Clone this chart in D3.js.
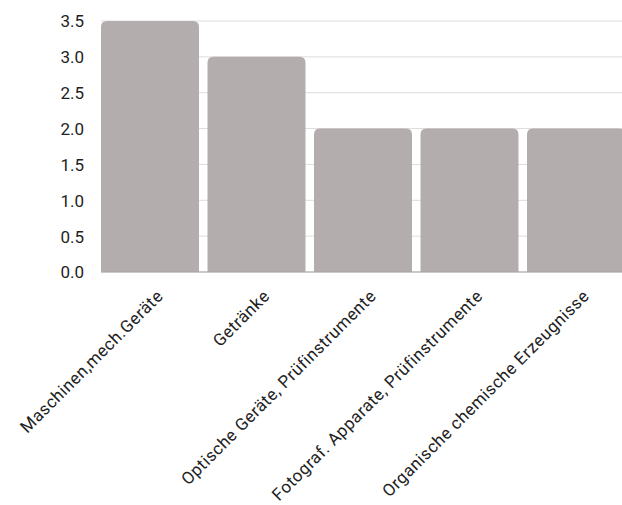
<!DOCTYPE html>
<html>
<head>
<meta charset="utf-8">
<script src="https://cdn.jsdelivr.net/npm/d3@7"></script>
<style>
  body { margin: 0; background: #fff; }
  svg { display: block; }
  .tick text { font-family: Roboto, sans-serif; fill: #222; }
</style>
</head>
<body>
<div class="canvas"></div>
<script>
const categories = ['Maschinen,mech.Geräte', 'Getränke', 'Optische Geräte, Prüfinstrumente',
  'Fotograf. Apparate, Prüfinstrumente', 'Organische chemische Erzeugnisse'];
const values = [3.5, 3.0, 2.0, 2.0, 2.0];
const yTicks = [0, 0.5, 1, 1.5, 2, 2.5, 3, 3.5];

const dims = { width: 622, height: 505 };
const margin = { top: 21, left: 101, bottom: 233 };

const svg = d3.select('.canvas')
  .append('svg')
  .attr('width', dims.width)
  .attr('height', dims.height);

const y = d3.scaleLinear()
  .domain([0, 3.5])
  .range([dims.height - margin.bottom, margin.top]);

const x = d3.scaleBand()
  .domain(categories)
  .range([margin.left, 625])
  .paddingInner(0.08)
  .paddingOuter(0);

// grid lines
svg.append('g')
  .selectAll('line')
  .data(yTicks)
  .enter().append('line')
  .attr('x1', margin.left)
  .attr('x2', dims.width)
  .attr('y1', d => y(d))
  .attr('y2', d => y(d))
  .attr('stroke', '#dcdcdc')
  .attr('stroke-width', 1);

// y axis labels
const yAxis = svg.append('g')
  .attr('transform', `translate(${margin.left - 14}, 0)`)
  .call(d3.axisLeft(y).tickValues(yTicks).tickFormat(d3.format('.1f')).tickSize(0));
yAxis.select('.domain').remove();
yAxis.selectAll('text').attr('font-size', 17).attr('dy', '0.35em');

// bars, rounded top corners
const r = 6;
svg.append('g')
  .selectAll('path')
  .data(values)
  .enter().append('path')
  .attr('fill', '#b3adad')
  .attr('d', (d, i) => {
    const x0 = x(categories[i]), w = x.bandwidth();
    const y0 = y(d), y1 = y(0);
    return `M${x0},${y1}V${y0 + r}Q${x0},${y0} ${x0 + r},${y0}H${x0 + w - r}Q${x0 + w},${y0} ${x0 + w},${y0 + r}V${y1}Z`;
  });

// baseline
svg.append('line')
  .attr('x1', margin.left).attr('x2', dims.width)
  .attr('y1', y(0)).attr('y2', y(0))
  .attr('stroke', '#a8a3a3');

// x axis labels
const xAxis = svg.append('g')
  .attr('transform', `translate(0, ${y(0)})`)
  .call(d3.axisBottom(x).tickSize(0));
xAxis.select('.domain').remove();
xAxis.selectAll('text')
  .attr('font-size', 17)
  .attr('letter-spacing', 0.5)
  .attr('text-anchor', 'end')
  .attr('dy', 0)
  .attr('transform', 'translate(12, 23) rotate(-45)');
</script>
</body>
</html>
